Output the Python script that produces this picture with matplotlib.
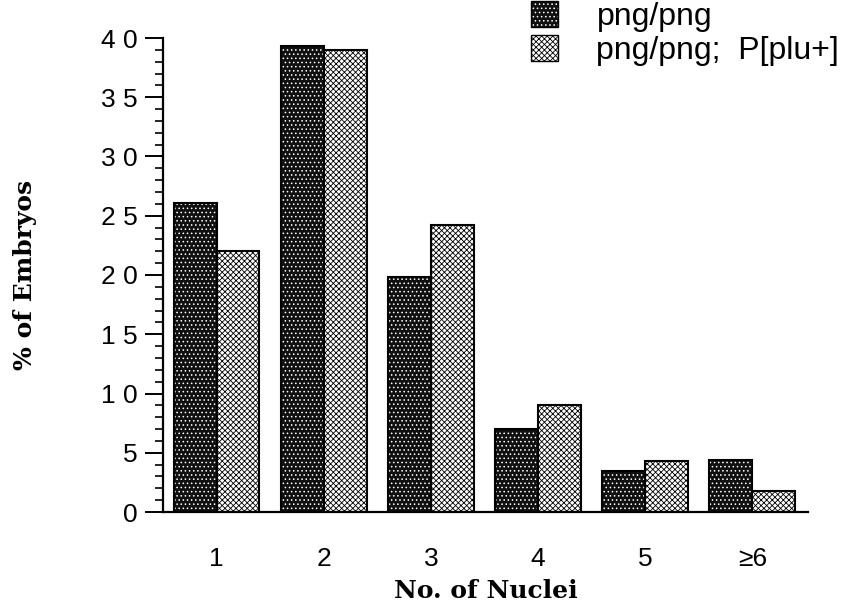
import matplotlib
matplotlib.use("Agg")
import matplotlib.pyplot as plt
import numpy as np
from matplotlib.patches import Patch
from matplotlib.ticker import MultipleLocator, FixedLocator

categories = ["1", "2", "3", "4", "5", "\u22656"]
png_png = [26.1, 39.3, 19.8, 7.0, 3.5, 4.4]
png_png_plu = [22.0, 39.0, 24.2, 9.0, 4.3, 1.8]
series_labels = ["png/png", "png/png;  P[plu+]"]
y_ticks = [0, 5, 10, 15, 20, 25, 30, 35, 40]
y_tick_labels = ["0", "5", "1 0", "1 5", "2 0", "2 5", "3 0", "3 5", "4 0"]

SANS = ["Liberation Sans", "DejaVu Sans"]
SERIF = ["DejaVu Serif"]

plt.rcParams["hatch.linewidth"] = 0.6

fig = plt.figure(figsize=(8.55, 6.11), dpi=100)
ax = fig.add_axes([163 / 855, 1 - 512 / 611, (808 - 163) / 855, (512 - 38) / 611])

x = np.arange(1, len(categories) + 1)
w = 0.4
DARK_FACE = "#101010"
DARK_HATCH = "...."
LIGHT_HATCH = "xxxxxx"

dark = ax.bar(x - w / 2, png_png, width=w, facecolor=DARK_FACE, edgecolor="black",
              linewidth=1.5, hatch=DARK_HATCH, label=series_labels[0], zorder=2)
for p in dark:
    p._hatch_color = (1, 1, 1, 1)
light = ax.bar(x + w / 2, png_png_plu, width=w, facecolor="white", edgecolor="black",
               linewidth=1.5, hatch=LIGHT_HATCH, label=series_labels[1], zorder=2)

ax.set_xlim(0.5, 6.52)
ax.set_ylim(0, 40)

for s in ["top", "right"]:
    ax.spines[s].set_visible(False)
for s in ["left", "bottom"]:
    ax.spines[s].set_linewidth(1.6)

ax.yaxis.set_major_locator(FixedLocator(y_ticks))
ax.set_yticklabels(y_tick_labels, fontfamily=SANS, fontsize=19)
ax.yaxis.set_minor_locator(MultipleLocator(1))
ax.tick_params(axis="y", which="major", direction="out", length=13, width=1.4, pad=5)
ax.tick_params(axis="y", which="minor", direction="out", length=6, width=1.2)

ax.set_xticks(x)
ax.set_xticklabels(categories, fontfamily=SANS, fontsize=19)
ax.tick_params(axis="x", which="both", length=0, pad=25)

ax.set_xlabel("No. of Nuclei", fontfamily=SERIF, fontsize=18, fontweight="bold", labelpad=6)
ax.set_ylabel("% of Embryos", fontfamily=SERIF, fontsize=18, fontweight="bold")
ax.yaxis.set_label_coords((25 - 163) / (808 - 163), (512 - 275) / (512 - 38))
ax.yaxis.label.set_verticalalignment("center")

h1 = Patch(facecolor=DARK_FACE, edgecolor="black", hatch=DARK_HATCH, linewidth=1.0)
h1._hatch_color = (1, 1, 1, 1)
h2 = Patch(facecolor="white", edgecolor="black", hatch=LIGHT_HATCH, linewidth=1.0)
leg = fig.legend([h1, h2], series_labels, loc="upper left",
                 bbox_to_anchor=(531 / 855, 1 - 1 / 611), frameon=False,
                 prop={"family": SANS, "size": 23}, handlelength=0.85, handleheight=0.88,
                 handletextpad=1.2, labelspacing=0.1, borderpad=0, borderaxespad=0)

fig.savefig("out.png", dpi=100)
